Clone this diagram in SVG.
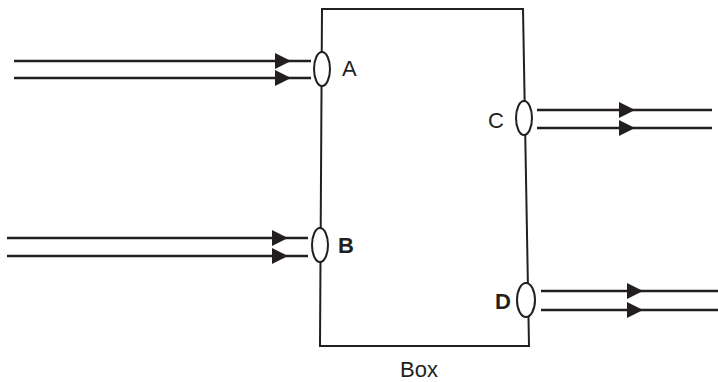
<svg xmlns="http://www.w3.org/2000/svg" width="718" height="382" viewBox="0 0 718 382">
<style>
.ln{stroke:#231f20;stroke-width:2.5;fill:none}
.bx{stroke:#231f20;stroke-width:2;fill:none}
.el{stroke:#231f20;stroke-width:2;fill:#fff}
.ah{fill:#231f20}
text{font-family:"Liberation Sans",Arial,sans-serif;font-size:22px;fill:#231f20}
.b{font-weight:bold}
</style>
<rect width="718" height="382" fill="#fff"/>
<g id="box">
<path class="bx" d="M322 9 L523 9 L529 346 L320 346 Z"/>
<text x="419" y="377" text-anchor="middle">Box</text>
</g>
<g id="connectors">
<line class="ln" x1="14" y1="61" x2="311" y2="61"/>
<line class="ln" x1="14" y1="78" x2="311" y2="78"/>
<polygon class="ah" points="275,53 291,61 275,69"/>
<polygon class="ah" points="275,70 291,78 275,86"/>
<line class="ln" x1="7" y1="238" x2="308" y2="238"/>
<line class="ln" x1="7" y1="256" x2="308" y2="256"/>
<polygon class="ah" points="272,230 288,238 272,246"/>
<polygon class="ah" points="272,248 288,256 272,264"/>
<line class="ln" x1="537" y1="110" x2="712" y2="110"/>
<line class="ln" x1="537" y1="128" x2="712" y2="128"/>
<polygon class="ah" points="619,102 635,110 619,118"/>
<polygon class="ah" points="619,120 635,128 619,136"/>
<line class="ln" x1="541" y1="291" x2="718" y2="291"/>
<line class="ln" x1="541" y1="310" x2="718" y2="310"/>
<polygon class="ah" points="627,283 643,291 627,299"/>
<polygon class="ah" points="627,302 643,310 627,318"/>
</g>
<g id="A"><ellipse class="el" cx="322" cy="69" rx="8" ry="17"/><text x="342" y="76">A</text></g>
<g id="B"><ellipse class="el" cx="320" cy="245" rx="8" ry="17"/><text class="b" x="338" y="253">B</text></g>
<g id="C"><ellipse class="el" cx="524" cy="118" rx="8" ry="17"/><text x="488" y="128">C</text></g>
<g id="D"><ellipse class="el" cx="526" cy="300" rx="9" ry="17"/><text class="b" x="495" y="309">D</text></g>
</svg>
